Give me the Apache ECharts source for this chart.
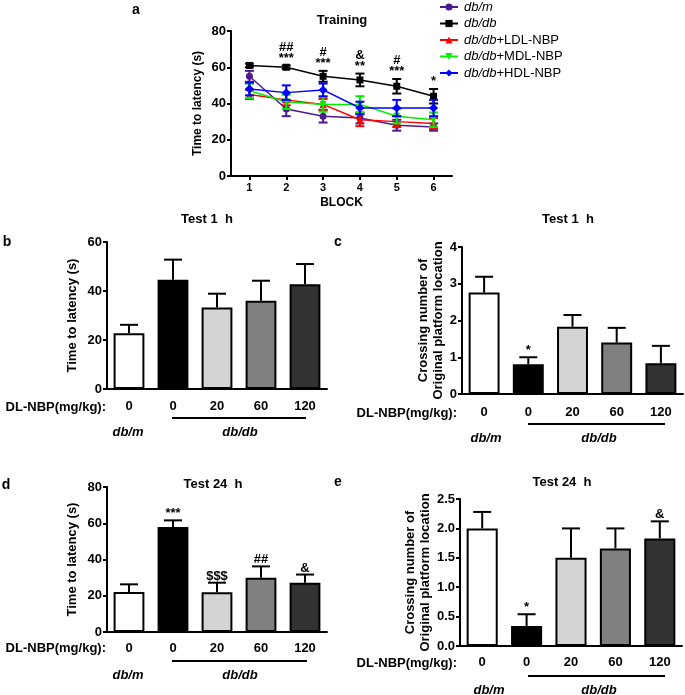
<!DOCTYPE html>
<html><head><meta charset="utf-8">
<script src="https://cdn.jsdelivr.net/npm/echarts@6/dist/echarts.min.js"></script>
<style>html,body{margin:0;padding:0;background:#fff}#c{width:685px;height:695px}</style>
</head><body><div id="c"></div>
<script>
// ---- Panel a: training (mean ± SEM) ----
const blocks = ['1','2','3','4','5','6'];
const seriesNames = ['db/m','db/db','db/db+LDL-NBP','db/db+MDL-NBP','db/db+HDL-NBP'];
const dbmMean  = [55, 37, 33, 32, 28, 27];
const dbmSem   = [3, 4, 3.5, 3, 3, 2];
const dbdbMean = [61, 60, 55, 53, 49.5, 44];
const dbdbSem  = [1, 1, 3, 3.5, 4, 4];
const ldlMean  = [45, 42, 39.5, 31, 30, 29];
const ldlSem   = [2.5, 3, 3, 3.5, 3, 3];
const mdlMean  = [47, 41, 39.5, 39.5, 33, 31];
const mdlSem   = [4, 4, 4, 4.5, 4, 4];
const hdlMean  = [48, 46, 47.5, 37.5, 37.5, 37.5];
const hdlSem   = [3.5, 4, 3.5, 3.5, 4.5, 4.5];
const trainingMarks = ['', '##\n***', '#\n***', '&\n**', '#\n***', '*'];

// ---- Panels b-e: probe tests ----
const doseLabels = ['0','0','20','60','120'];
const test1Latency     = [22.8, 44.6, 33.3, 36.0, 42.8];
const test1LatencySem  = [3.4, 8.2, 5.6, 8.2, 8.2];
const test1LatencyMarks= ['', '', '', '', ''];
const test1Cross       = [2.76, 0.81, 1.83, 1.40, 0.84];
const test1CrossSem    = [0.43, 0.19, 0.32, 0.40, 0.47];
const test1CrossMarks  = ['', '*', '', '', ''];
const test24Latency    = [22.1, 57.9, 22.0, 30.0, 27.2];
const test24LatencySem = [4.2, 3.7, 5.2, 6.2, 4.5];
const test24LatencyMarks=['', '***', '$$$', '##', '&'];
const test24Cross      = [2.0, 0.34, 1.5, 1.66, 1.83];
const test24CrossSem   = [0.28, 0.2, 0.5, 0.34, 0.29];
const test24CrossMarks = ['', '*', '', '', '&'];

const FF = '"Liberation Sans", Arial, sans-serif';
const barColors = ['#ffffff', '#000000', '#d4d4d4', '#808080', '#333333'];
const lineColors = ['#4b1a8c', '#000000', '#ff0000', '#00ee00', '#0000ff'];
const lineSymbols = ['circle', 'rect', 'triangle', 'triangle', 'diamond'];
const lineRot = [0, 0, 0, 180, 0];

const chart = echarts.init(document.getElementById('c'), null, {renderer: 'canvas'});

function errRender(color, cap, both, marks, markFont, markOffset) {
  return function (params, api) {
    const x = api.value(0), m = api.value(1), s = api.value(2);
    const hi = api.coord([x, m + s]);
    const lo = api.coord([x, both ? m - s : m]);
    const st = {stroke: color, lineWidth: 2};
    const ch = [
      {type: 'line', shape: {x1: hi[0], y1: hi[1], x2: lo[0], y2: lo[1]}, style: st},
      {type: 'line', shape: {x1: hi[0] - cap / 2, y1: hi[1], x2: hi[0] + cap / 2, y2: hi[1]}, style: st}
    ];
    if (both) ch.push({type: 'line', shape: {x1: lo[0] - cap / 2, y1: lo[1], x2: lo[0] + cap / 2, y2: lo[1]}, style: st});
    const t = marks ? marks[params.dataIndex] : '';
    if (t) ch.push({type: 'text', style: {text: t, x: hi[0], y: hi[1] - markOffset, textAlign: 'center',
      textVerticalAlign: 'bottom', font: markFont, fill: '#000', lineHeight: 11}});
    return {type: 'group', children: ch};
  };
}

const axisLbl = {color: '#000', fontFamily: FF, fontWeight: 'bold', fontSize: 13};
const axLine = {show: true, lineStyle: {color: '#000', width: 2}};
const axTick = {show: true, length: 4, lineStyle: {color: '#000', width: 2}};

function yAxis(gi, max, interval, name, gap, fmt) {
  return {type: 'value', gridIndex: gi, min: 0, max: max, interval: interval,
    name: name, nameLocation: 'middle', nameGap: gap,
    nameTextStyle: {color: '#000', fontFamily: FF, fontWeight: 'bold', fontSize: 13, lineHeight: 15},
    axisLine: axLine, axisTick: axTick, splitLine: {show: false},
    axisLabel: Object.assign({margin: 5, formatter: fmt}, axisLbl)};
}
function xBarAxis(gi, margin) {
  return {type: 'category', gridIndex: gi, data: doseLabels, axisLine: axLine, axisTick: {show: false},
    axisLabel: Object.assign({margin: margin}, axisLbl)};
}

const grids = [
  {left: 231, top: 31, width: 221, height: 145},
  {left: 107, top: 242, width: 220, height: 147},
  {left: 462, top: 247, width: 221, height: 147},
  {left: 107, top: 487, width: 220, height: 145},
  {left: 460, top: 499, width: 222, height: 147}
];

const xAxes = [
  {type: 'category', gridIndex: 0, data: blocks, name: 'BLOCK', nameLocation: 'middle', nameGap: 21,
   nameTextStyle: {color: '#000', fontFamily: FF, fontWeight: 'bold', fontSize: 12},
   axisLine: axLine, axisTick: Object.assign({alignWithLabel: true}, axTick),
   axisLabel: {color: '#000', fontFamily: FF, fontWeight: 'bold', fontSize: 11, margin: 6}},
  xBarAxis(1, 11), xBarAxis(2, 12), xBarAxis(3, 10), xBarAxis(4, 10)
];
const yAxes = [
  yAxis(0, 80, 20, 'Time to latency (s)', 26),
  yAxis(1, 60, 20, 'Time to latency (s)', 27),
  yAxis(2, 4, 1, 'Crossing number of\nOriginal platform location', 11),
  yAxis(3, 80, 20, 'Time to latency (s)', 27),
  yAxis(4, 2.5, 0.5, 'Crossing number of\nOriginal platform location', 19, v => v.toFixed(1))
];
yAxes[0].nameTextStyle.fontSize = 12;

const series = [];
const means = [dbmMean, dbdbMean, ldlMean, mdlMean, hdlMean];
const sems = [dbmSem, dbdbSem, ldlSem, mdlSem, hdlSem];
seriesNames.forEach((n, k) => {
  series.push({type: 'line', name: n, xAxisIndex: 0, yAxisIndex: 0, data: means[k],
    symbol: lineSymbols[k], symbolRotate: lineRot[k], symbolSize: k === 4 ? 9 : 7,
    itemStyle: {color: lineColors[k]}, lineStyle: {color: lineColors[k], width: 1.5},
    z: 3 + k, animation: false});
  series.push({type: 'custom', xAxisIndex: 0, yAxisIndex: 0, z: 3 + k,
    data: blocks.map((b, i) => [i, means[k][i], sems[k][i]]),
    renderItem: errRender(lineColors[k], 9, true, k === 1 ? trainingMarks : null, 'bold 13px ' + FF, 2),
    animation: false, silent: true});
});

function barPanel(gi, vals, sem, marks) {
  series.push({type: 'bar', xAxisIndex: gi, yAxisIndex: gi, barWidth: '70%',
    data: vals.map((v, i) => ({value: v, itemStyle: {color: barColors[i], borderColor: '#000', borderWidth: 2}})),
    animation: false, z: 2});
  series.push({type: 'custom', xAxisIndex: gi, yAxisIndex: gi, z: 3,
    data: vals.map((v, i) => [i, v, sem[i]]),
    renderItem: errRender('#000', 18, false, marks, 'bold 13px ' + FF, 1),
    animation: false, silent: true});
}
barPanel(1, test1Latency, test1LatencySem, test1LatencyMarks);
barPanel(2, test1Cross, test1CrossSem, test1CrossMarks);
barPanel(3, test24Latency, test24LatencySem, test24LatencyMarks);
barPanel(4, test24Cross, test24CrossSem, test24CrossMarks);

function txt(t, x, y, font, align, valign) {
  return {type: 'text', silent: true, style: {text: t, x: x, y: y, font: font, fill: '#000',
    textAlign: align || 'center', textVerticalAlign: valign || 'middle'}};
}
function hline(x1, x2, y) {
  return {type: 'line', silent: true, shape: {x1: x1, y1: y, x2: x2, y2: y}, style: {stroke: '#000', lineWidth: 2}};
}
const B13 = 'bold 13px ' + FF;
const BI13 = 'italic bold 13px ' + FF;
const graphics = [
  txt('a', 136, 10, 'bold 14px ' + FF),
  txt('Training', 342, 20, B13),
  txt('b', 7, 242, 'bold 14px ' + FF),
  txt('Test 1  h', 207, 219, B13),
  txt('c', 338, 242, 'bold 14px ' + FF),
  txt('Test 1  h', 568, 219, B13),
  txt('d', 6, 485, 'bold 14px ' + FF),
  txt('Test 24  h', 213, 484, B13),
  txt('e', 338, 482, 'bold 14px ' + FF),
  txt('Test 24  h', 562, 482, B13),
  // panel b group labels
  txt('DL-NBP(mg/kg):', 106, 407, B13, 'right'),
  hline(172, 306, 418),
  txt('db/m', 128, 432, BI13), txt('db/db', 240, 432, BI13),
  // panel c
  txt('DL-NBP(mg/kg):', 457, 413, B13, 'right'),
  hline(528, 665, 424),
  txt('db/m', 486, 438, BI13), txt('db/db', 599, 438, BI13),
  // panel d
  txt('DL-NBP(mg/kg):', 106, 648, B13, 'right'),
  hline(172, 307, 661),
  txt('db/m', 128, 675, BI13), txt('db/db', 240, 675, BI13),
  // panel e
  txt('DL-NBP(mg/kg):', 457, 663, B13, 'right'),
  hline(528, 665, 676),
  txt('db/m', 489, 690, BI13), txt('db/db', 599, 690, BI13)
];

chart.setOption({
  backgroundColor: '#fff',
  animation: false,
  grid: grids,
  xAxis: xAxes,
  yAxis: yAxes,
  legend: {
    data: seriesNames, orient: 'vertical', left: 434, top: -5, itemWidth: 18, itemHeight: 9, itemGap: 2.5,
    selectedMode: false,
    textStyle: {color: '#000', fontFamily: FF, fontSize: 13, lineHeight: 14, padding: [0, 0, 0, 1],
      rich: {i: {fontStyle: 'italic', fontFamily: FF, fontSize: 13, color: '#000'}}},
    formatter: n => n.replace(/^(db\/db|db\/m)/, '{i|$1}')
  },
  series: series,
  graphic: graphics
});
</script></body></html>
